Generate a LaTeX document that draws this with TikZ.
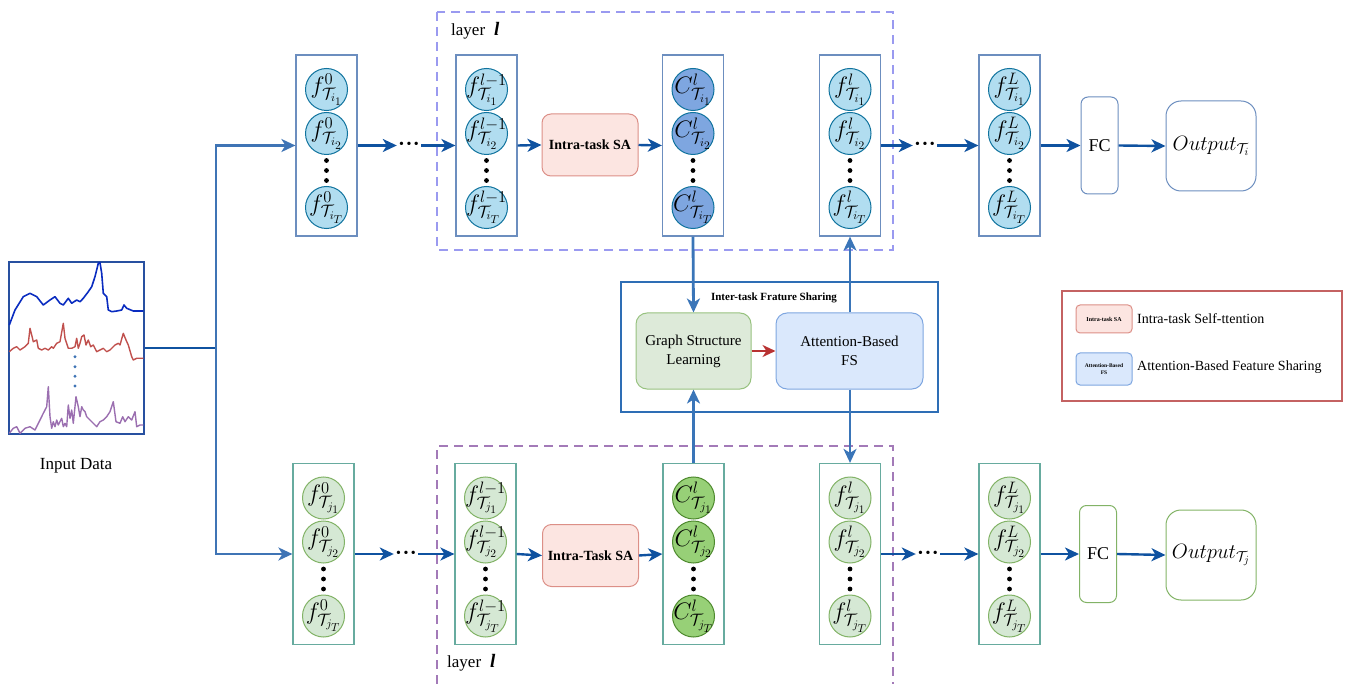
\documentclass[tikz,border=0pt]{standalone}
\usepackage{fontspec}
\usepackage{graphicx}
\setmainfont{Liberation Serif}
\usetikzlibrary{arrows.meta}
\DeclareMathSizes{21}{21}{15}{11}
\definecolor{arrblue}{HTML}{0F52A0}
\definecolor{brblue}{HTML}{3F74B5}
\definecolor{vblue}{HTML}{3A75B8}
\definecolor{boxblue}{HTML}{6C8EBF}
\definecolor{boxteal}{HTML}{67AB9F}
\definecolor{cfilltop}{HTML}{B1DDF0}
\definecolor{cdrawtop}{HTML}{10739E}
\definecolor{Cfilltop}{HTML}{7EA6E0}
\definecolor{cfillbot}{HTML}{D5E8D4}
\definecolor{cdrawbot}{HTML}{82B366}
\definecolor{Cfillbot}{HTML}{97D077}
\definecolor{Cdrawbot}{HTML}{4E8A2E}
\definecolor{safill}{HTML}{FCE5E1}
\definecolor{sadraw}{HTML}{DC8F87}
\definecolor{interblue}{HTML}{2E6EB5}
\definecolor{gslfill}{HTML}{DDEAD9}
\definecolor{gsldraw}{HTML}{97C27F}
\definecolor{afsfill}{HTML}{DAE8FC}
\definecolor{afsdraw}{HTML}{7EA6E0}
\definecolor{legred}{HTML}{C46262}
\definecolor{redarr}{HTML}{B83232}
\definecolor{dashtop}{HTML}{9A9AF0}
\definecolor{dashbot}{HTML}{A37AB8}
\definecolor{inborder}{HTML}{2850A0}
\definecolor{serblue}{HTML}{0A2CC0}
\definecolor{serred}{HTML}{C0504D}
\definecolor{serpurple}{HTML}{9B6FB0}
\newcommand\clbl[3]{\scalebox{1.15}{$#1^{#2}_{\mathcal{T}_{#3}}$}}
\newcommand\taskcol[8]{%
  \node[colbox=#4] (#1) at (#2,#3) {};
  \node[#5] (#1a) at (#2,#3-56) {\clbl{#6}{#7}{#8_1}};
  \node[#5] (#1b) at (#2,#3-12) {\clbl{#6}{#7}{#8_2}};
  \node[#5] (#1c) at (#2,#3+62) {\clbl{#6}{#7}{#8_T}};
  \fill (#2,#3+15) circle (2.4) (#2,#3+25) circle (2.4) (#2,#3+35) circle (2.4);
}
\newcommand\hdotstext{\textbullet\kern2.5pt\textbullet\kern2.5pt\textbullet}
\begin{document}
\begin{tikzpicture}[x=1pt,y=-1pt,
  colbox/.style={draw=#1, fill=white, line width=1.2, minimum width=61, minimum height=181, inner sep=0},
  circbase/.style={circle, line width=1, minimum size=42, inner sep=-10pt, font=\fontsize{20}{22}\selectfont},
  ftop/.style={circbase, draw=cdrawtop, fill=cfilltop},
  ctop/.style={circbase, draw=cdrawtop, fill=Cfilltop},
  fbot/.style={circbase, draw=cdrawbot, fill=cfillbot},
  cbot/.style={circbase, draw=Cdrawbot, fill=Cfillbot},
  arr/.style={draw=arrblue, line width=2.4, -{Stealth[length=14pt,width=13pt,inset=4pt]}},
  brarr/.style={draw=brblue, line width=2.4, -{Stealth[length=14pt,width=13pt,inset=4pt]}},
  varr/.style={draw=vblue, line width=2.8, -{Stealth[length=14pt,width=13pt,inset=4pt]}},
  sabox/.style={draw=sadraw, fill=safill, line width=1, rounded corners=9, minimum width=96, minimum height=62, inner sep=0, font=\fontsize{14}{16}\selectfont\bfseries},
  fcbox/.style={draw=#1, line width=1, rounded corners=7, minimum width=37, minimum height=97, inner sep=0, font=\fontsize{18}{20}\selectfont},
  outbox/.style={draw=#1, line width=1, rounded corners=15, minimum width=90, minimum height=90, inner sep=0, font=\fontsize{21}{24}\selectfont},
  hdots/.style={inner sep=0, minimum width=24, font=\fontsize{14}{14}\selectfont},
  layerdash/.style={draw=#1, line width=1.1, dash pattern=on 9pt off 6pt},
  txt/.style={inner sep=0, font=\fontsize{17}{20}\selectfont}
]
\useasboundingbox (0,0) rectangle (1346,684);

% layer boxes (dashed)
\draw[layerdash=dashtop] (437,12) rectangle (893,250);
\draw[layerdash=dashbot] (437,684) -- (437,446) -- (893,446) -- (893,684);
\node[txt, anchor=west] (ltop) at (451,31) {layer \;{\fontsize{19}{20}\selectfont\bfseries\itshape l}};
\node[txt, anchor=west] (lbot) at (447,663) {layer \;{\fontsize{19}{20}\selectfont\bfseries\itshape l}};

% input data
\node[draw=inborder, line width=1.2, minimum width=135, minimum height=172, inner sep=0] (inbox) at (76.5,348) {};
\draw[serblue, line width=1.6, line join=round] (9.3,325)--(15,310)--(23.3,296.7)--(30,293.3)--(36.7,296.7)--(43.3,305)--(50,300)--(55,296.7)--(60,303.3)--(63.3,305)--(68.3,298.3)--(71.7,303.3)--(76.7,300)--(80,301.7)--(83.3,298.3)--(88.3,291.7)--(91.7,286.7)--(95,276.7)--(98.3,263.3)--(100,262.7)--(101.7,273.3)--(103.3,293.3)--(106.7,296.7)--(108.3,310)--(111.7,311.7)--(116.7,311)--(121.7,310)--(124,305)--(126.7,308.3)--(133.3,311)--(143.3,311);
\draw[serred, line width=1.4, line join=round] (9.3,351.7)--(13.3,348.3)--(16.7,346.7)--(20,350)--(25,346.7)--(28.3,343.3)--(30,328.3)--(31.7,335)--(33.3,341.7)--(36.7,340)--(38.3,348.3)--(41.7,350)--(45,348.3)--(48.3,350)--(51.7,346.7)--(53.3,348.3)--(56.7,343.3)--(60,341.7)--(63.3,323.3)--(65,338.3)--(68.3,348.3)--(71.7,348.3)--(75,346.7)--(76.7,338.3)--(78.3,348.3)--(80,343.3)--(81.7,336.7)--(84,335)--(86,345)--(88.3,340)--(90.7,346.7)--(93.3,345)--(96.7,351.7)--(100,350)--(103.3,348.3)--(106.7,351.7)--(110,350)--(115,345)--(118.3,343.3)--(120,345)--(123.3,333.3)--(126,340)--(128.3,345)--(131.7,356.7)--(133.3,360)--(136.7,358.3)--(143.3,358.3);
\draw[serpurple, line width=1.4, line join=round] (9.3,433.3)--(13.3,428.3)--(16.7,426.7)--(20,433.3)--(25,428.3)--(30,426.7)--(35,430)--(40,420)--(43.3,413.3)--(46.7,406.7)--(48.3,386.7)--(50,416.7)--(51.7,428.3)--(53.3,421.7)--(55,426.7)--(56.7,420)--(58.3,425)--(61.7,418.3)--(63.3,426.7)--(65,423.3)--(66.7,426.7)--(68.3,405)--(70,418.3)--(71.7,410)--(73.3,423.3)--(76,396.7)--(78.3,406.7)--(80,416.7)--(81.7,406.7)--(83.3,410)--(85,411.7)--(86.7,416.7)--(90,420)--(93.3,423.3)--(96.7,426.7)--(100,421.7)--(103.3,420)--(106.7,416.7)--(110,411.7)--(113.3,401.7)--(116,421.7)--(120,423.3)--(122.7,416.7)--(125,421.7)--(128.3,416.7)--(131.7,420)--(135,411.7)--(136.7,426.7)--(140,425)--(143.3,425);
\fill[brblue] (75,356.7) circle (1.6) (75,366.7) circle (1.6) (75,376.3) circle (1.6) (75,386) circle (1.6);
\node[txt] (intext) at (76,466) {Input Data};

% columns top row
\taskcol{t0}{326.5}{145.5}{boxblue}{ftop}{f}{0}{i}
\taskcol{t1}{486.5}{145.5}{boxblue}{ftop}{f}{l-1}{i}
\taskcol{t2}{693}{145.5}{boxblue}{ctop}{C}{l}{i}
\taskcol{t3}{850}{145.5}{boxblue}{ftop}{f}{l}{i}
\taskcol{t4}{1009.5}{145.5}{boxblue}{ftop}{f}{L}{i}
% columns bottom row
\taskcol{b0}{323.5}{554}{boxteal}{fbot}{f}{0}{j}
\taskcol{b1}{485.5}{554}{boxteal}{fbot}{f}{l-1}{j}
\taskcol{b2}{693.5}{554}{boxteal}{cbot}{C}{l}{j}
\taskcol{b3}{850}{554}{boxteal}{fbot}{f}{l}{j}
\taskcol{b4}{1009.5}{554}{boxteal}{fbot}{f}{L}{j}

% SA, FC, Output
\node[sabox] (tsa) at (590,145) {Intra-task SA};
\node[sabox] (bsa) at (590.5,555.5) {Intra-Task SA};
\node[fcbox=boxblue] (tfc) at (1099.5,145.5) {FC};
\node[fcbox=cdrawbot] (bfc) at (1098,554) {FC};
\node[outbox=boxblue] (tout) at (1211,146) {$Output_{\mathcal{T}_i}$};
\node[outbox=cdrawbot] (bout) at (1211,555) {$Output_{\mathcal{T}_j}$};

% dots
\node[hdots] (td1) at (409,145.5) {\hdotstext};
\node[hdots] (td2) at (925,145.5) {\hdotstext};
\node[hdots] (bd1) at (406,554) {\hdotstext};
\node[hdots] (bd2) at (928,554) {\hdotstext};

% input connectors
\coordinate (split) at (216,348);
\draw[draw=arrblue, line width=2.4] (inbox.east) -- (split);
\draw[brarr] (split) |- (t0.west);
\draw[brarr] (split) |- (b0.west);

% top row connectors
\draw[arr] (t0.east) -- (td1.west);
\draw[arr] (td1.east) -- (t1.west);
\draw[arr] (t1.east) -- (tsa.west);
\draw[arr] (tsa.east) -- (t2.west);
\draw[arr] (t3.east) -- (td2.west);
\draw[arr] (td2.east) -- (t4.west);
\draw[arr] (t4.east) -- (tfc.west);
\draw[arr] (tfc.east) -- (tout.west);
% bottom row connectors
\draw[arr] (b0.east) -- (bd1.west);
\draw[arr] (bd1.east) -- (b1.west);
\draw[arr] (b1.east) -- (bsa.west);
\draw[arr] (bsa.east) -- (b2.west);
\draw[arr] (b3.east) -- (bd2.west);
\draw[arr] (bd2.east) -- (b4.west);
\draw[arr] (b4.east) -- (bfc.west);
\draw[arr] (bfc.east) -- (bout.west);

% inter-task feature sharing
\node[draw=interblue, line width=2.6, minimum width=317, minimum height=130, inner sep=0] (inter) at (779.5,347) {};
\node[inner sep=0, font=\fontsize{11}{13}\selectfont\bfseries] (intertitle) at (774,298) {Inter-task Frature Sharing};
\node[draw=gsldraw, fill=gslfill, line width=1, rounded corners=11, minimum width=115, minimum height=76, inner sep=0, align=center, font=\fontsize{15}{19}\selectfont] (gsl) at (693.5,351) {Graph Structure\\Learning};
\node[draw=afsdraw, fill=afsfill, line width=1, rounded corners=11, minimum width=147, minimum height=76, inner sep=0, align=center, font=\fontsize{15}{19}\selectfont] (afs) at (849.5,351) {Attention-Based\\FS};
\draw[draw=redarr, line width=2.6, -{Stealth[length=13pt,width=12pt,inset=4pt]}] (gsl.east) -- (afs.west);
\draw[varr] (t2.south) -- (gsl.north);
\draw[varr] (t3.south |- afs.north) -- (t3.south);
\draw[varr] (b3.north |- afs.south) -- (b3.north);
\draw[varr] (b2.north) -- (b2.north |- gsl.south);

% legend
\node[draw=legred, line width=1.1, minimum width=280, minimum height=110, inner sep=0] (legend) at (1202,346) {};
\node[draw=sadraw, fill=safill, line width=1, rounded corners=4, minimum width=56, minimum height=28, inner sep=0, font=\fontsize{6}{7}\selectfont\bfseries] (legsa) at (1104,319) {Intra-task SA};
\node[draw=afsdraw, fill=afsfill, line width=1, rounded corners=4, minimum width=56, minimum height=32, inner sep=0, align=center, font=\fontsize{5.5}{7}\selectfont\bfseries] (legafs) at (1104,369) {Attention-Based\\FS};
\node[anchor=west, inner sep=0, font=\fontsize{14}{16}\selectfont] (legsatext) at (1137,319) {Intra-task Self-ttention};
\node[anchor=west, inner sep=0, font=\fontsize{14}{16}\selectfont] (legafstext) at (1137,367) {Attention-Based Feature Sharing};
\end{tikzpicture}
\end{document}
